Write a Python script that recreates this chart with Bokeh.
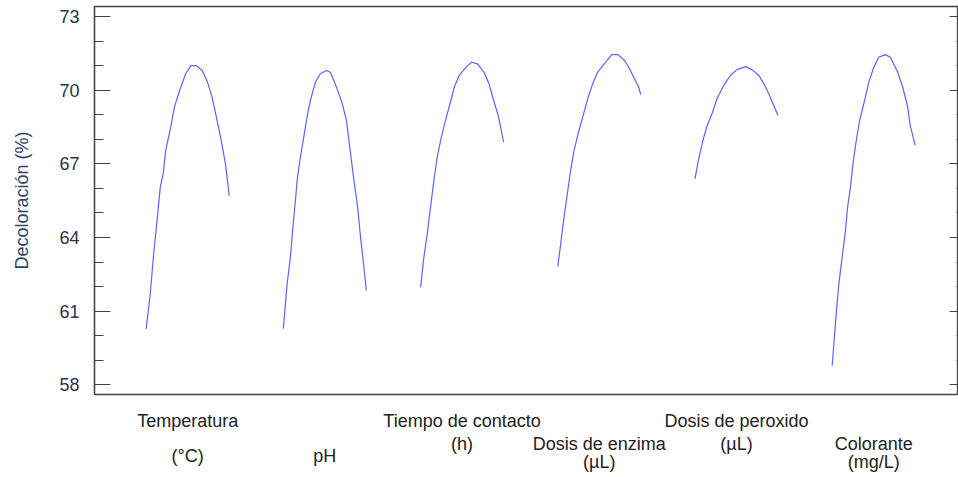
from bokeh.plotting import figure
from bokeh.models import LinearAxis, FixedTicker, Range1d
from bokeh.embed import file_html
from bokeh.resources import INLINE

# ---- data (coded factor level -1..+1, predicted decoloration %) ----
temp_level = [-1, -0.90, -0.82, -0.73, -0.66, -0.59, -0.53, -0.41, -0.32, -0.19, -0.05,
              0.08, 0.21, 0.35, 0.48, 0.59, 0.71, 0.81, 0.91, 0.95, 1.0]
temp_value = [60.28, 61.72, 63.33, 64.82, 66.05, 66.59, 67.54, 68.49, 69.31, 70.01, 70.67,
              71.0, 71.0, 70.80, 70.32, 69.71, 68.76, 67.95, 67.0, 66.45, 65.70]

ph_level = [-1, -0.91, -0.83, -0.77, -0.71, -0.66, -0.59, -0.51, -0.43, -0.35, -0.23, -0.11,
            0.04, 0.13, 0.25, 0.41, 0.52, 0.61, 0.69, 0.79, 0.86, 0.94, 1.0]
ph_value = [60.29, 62.11, 63.20, 64.42, 65.51, 66.45, 67.27, 68.08, 68.90, 69.58, 70.32, 70.67,
            70.80, 70.73, 70.26, 69.51, 68.76, 67.54, 66.45, 65.23, 64.01, 62.79, 61.84]

tiempo_level = [-1, -0.92, -0.84, -0.74, -0.68, -0.60, -0.50, -0.40, -0.27, -0.19, -0.07,
                0.09, 0.23, 0.37, 0.53, 0.65, 0.76, 0.87, 0.93, 1.0]
tiempo_value = [61.97, 63.20, 64.15, 65.51, 66.32, 67.27, 68.08, 68.76, 69.58, 70.12, 70.60,
                70.93, 71.14, 71.07, 70.73, 70.26, 69.58, 68.97, 68.49, 67.88]

enzima_level = [-1, -0.93, -0.85, -0.77, -0.69, -0.61, -0.49, -0.40, -0.28, -0.16, -0.04,
                0.12, 0.30, 0.45, 0.61, 0.73, 0.85, 0.95, 1.0]
enzima_value = [62.82, 63.74, 64.82, 65.78, 66.73, 67.54, 68.36, 68.90, 69.65, 70.26, 70.73,
                71.07, 71.45, 71.45, 71.21, 70.87, 70.46, 70.12, 69.82]

peroxido_level = [-1, -0.92, -0.81, -0.72, -0.59, -0.47, -0.31, -0.15, 0.01, 0.22, 0.38,
                  0.54, 0.66, 0.78, 0.90, 1.0]
peroxido_value = [66.39, 67.13, 67.95, 68.49, 69.04, 69.65, 70.19, 70.60, 70.84, 70.96, 70.83,
                  70.60, 70.26, 69.85, 69.37, 68.97]

colorante_level = [-1, -0.96, -0.90, -0.84, -0.76, -0.68, -0.63, -0.56, -0.50, -0.42, -0.34,
                   -0.22, -0.12, 0.00, 0.12, 0.28, 0.40, 0.58, 0.70, 0.82, 0.88, 1.0]
colorante_value = [58.78, 59.67, 60.96, 62.11, 63.20, 64.28, 65.23, 66.05, 67.00, 67.95, 68.76,
                   69.58, 70.32, 70.93, 71.34, 71.45, 71.34, 70.73, 70.12, 69.31, 68.56, 67.75]

factor_labels = [["Temperatura", "(°C)"], ["pH"], ["Tiempo de contacto", "(h)"],
                 ["Dosis de enzima", "(µL)"], ["Dosis de peroxido", "(µL)"],
                 ["Colorante", "(mg/L)"]]

y_major = [58, 61, 64, 67, 70, 73]
y_minor = [59, 60, 62, 63, 65, 66, 68, 69, 71, 72]
y_title = "Decoloración (%)"

# ---- layout / style ----
HALF = 0.3025           # half width of one factor's span, in x units
# which (factor, line) goes into which stacked text row below the frame
row_members = [[(0, 0), (2, 0), (4, 0)],
               [(2, 1), (3, 0), (4, 1), (5, 0)],
               [(0, 1), (1, 0)],
               [(3, 1), (5, 1)]]
row_standoff = [16, 0, -11, -17]

FONT = "Liberation Sans"
AX = "#444444"
LINE = "#5a64ff"

p = figure(width=958, height=477, output_backend="svg", toolbar_location=None,
           x_range=Range1d(-0.679, 5.618), y_range=Range1d(57.605, 73.41),
           x_axis_location=None, y_axis_location=None,
           min_border_left=94, min_border_right=0, min_border_top=6, min_border_bottom=83)
p.grid.visible = False
p.outline_line_color = AX
p.outline_line_width = 1.3
p.background_fill_color = "white"
p.border_fill_color = "white"

left = LinearAxis(ticker=FixedTicker(ticks=y_major, minor_ticks=y_minor))
left.axis_line_color = AX
left.axis_line_width = 1.3
left.major_tick_line_color = AX
left.minor_tick_line_color = AX
left.major_tick_in = 16
left.major_tick_out = 0
left.minor_tick_in = 9
left.minor_tick_out = 0
left.major_label_standoff = 15
left.major_label_text_font = FONT
left.major_label_text_font_size = "18px"
left.major_label_text_color = "#2b3445"
left.axis_label = y_title
left.axis_label_text_font = FONT
left.axis_label_text_font_size = "18px"
left.axis_label_text_font_style = "normal"
left.axis_label_text_color = "#2c4466"
left.axis_label_standoff = 24
p.add_layout(left, "left")

right = LinearAxis(ticker=FixedTicker(ticks=y_major, minor_ticks=y_minor))
right.axis_line_color = AX
right.major_tick_line_color = AX
right.minor_tick_line_color = AX
right.major_tick_in = 9
right.major_tick_out = 0
right.minor_tick_in = 2
right.minor_tick_out = 0
right.major_label_standoff = 0
right.major_label_text_font_size = "0px"
p.add_layout(right, "right")

series = [(temp_level, temp_value), (ph_level, ph_value), (tiempo_level, tiempo_value),
          (enzima_level, enzima_value), (peroxido_level, peroxido_value),
          (colorante_level, colorante_value)]
for i, (lv, val) in enumerate(series):
    xs = [i + HALF * c for c in lv]
    p.line(xs, val, line_color=LINE, line_width=1.2)

# factor names as stacked rows of tick labels below the frame
for members, standoff in zip(row_members, row_standoff):
    ticks = [i for i, j in members]
    ax = LinearAxis(ticker=FixedTicker(ticks=ticks, minor_ticks=[]),
                    major_label_overrides={i: factor_labels[i][j] for i, j in members})
    ax.axis_line_color = None
    ax.major_tick_line_color = None
    ax.minor_tick_line_color = None
    ax.major_tick_in = 0
    ax.major_tick_out = 0
    ax.minor_tick_in = 0
    ax.minor_tick_out = 0
    ax.major_label_standoff = standoff
    ax.major_label_text_font = FONT
    ax.major_label_text_font_size = "18px"
    ax.major_label_text_color = "#222222"
    p.add_layout(ax, "below")

open("out.html", "w").write(file_html(p, INLINE))
